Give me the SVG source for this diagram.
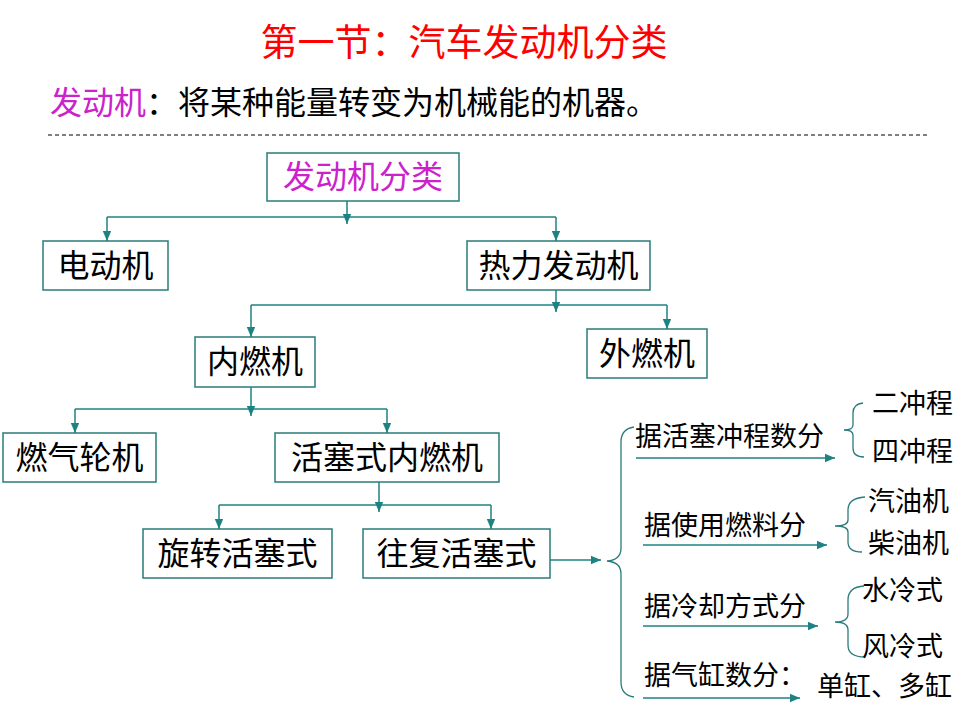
<svg xmlns="http://www.w3.org/2000/svg" width="960" height="720" viewBox="0 0 960 720">
<style>
text{font-family:"Noto Sans CJK SC","Liberation Sans",sans-serif;fill:#000}
.node rect{fill:#fff;stroke:#2A7C7C;stroke-width:1.5}
.node text{font-size:32px;text-anchor:middle}
.c{fill:none;stroke:#1E8282;stroke-width:1.5}
.b{fill:none;stroke:#2A7C7C;stroke-width:1.3}
.r{font-size:27px}
.mag{fill:#CC22CC}
</style>
<defs>
<marker id="ah" markerUnits="userSpaceOnUse" markerWidth="10" markerHeight="10" viewBox="0 0 10 10" refX="10" refY="5" orient="auto">
<path d="M0,0.8 L10,5 L0,9.2 Z" fill="#1E8282"/>
</marker>
</defs>
<text x="464" y="56" style="font-size:37px;fill:#FF0000;text-anchor:middle">第一节：汽车发动机分类</text>
<text x="50" y="114" style="font-size:32px"><tspan class="mag">发动机</tspan>：将某种能量转变为机械能的机器。</text>
<line x1="48" y1="135" x2="928" y2="135" stroke="#000" stroke-width="1" stroke-dasharray="4 3"/>
<g id="connectors">
<path class="c" d="M347,201 V224" marker-end="url(#ah)"/>
<path class="c" d="M107,217 H556"/>
<path class="c" d="M107,217 V241" marker-end="url(#ah)"/>
<path class="c" d="M556,217 V241" marker-end="url(#ah)"/>
<path class="c" d="M556,290 V312" marker-end="url(#ah)"/>
<path class="c" d="M251,305 H667"/>
<path class="c" d="M251,305 V337" marker-end="url(#ah)"/>
<path class="c" d="M667,305 V329" marker-end="url(#ah)"/>
<path class="c" d="M251,387 V416" marker-end="url(#ah)"/>
<path class="c" d="M75,409 H387"/>
<path class="c" d="M75,409 V433" marker-end="url(#ah)"/>
<path class="c" d="M387,409 V433" marker-end="url(#ah)"/>
<path class="c" d="M379,482 V512" marker-end="url(#ah)"/>
<path class="c" d="M219,505 H491"/>
<path class="c" d="M219,505 V529" marker-end="url(#ah)"/>
<path class="c" d="M491,505 V529" marker-end="url(#ah)"/>
<path class="c" d="M550,560 H601" marker-end="url(#ah)"/>
<path class="b" d="M634,427 Q621,429 621,442 V548 Q621,560 607,561 Q621,562 621,574 V682 Q621,695 634,697"/>
<path class="c" d="M636,458 H835" marker-end="url(#ah)"/>
<path class="c" d="M643,545 H827" marker-end="url(#ah)"/>
<path class="c" d="M643,626 H818" marker-end="url(#ah)"/>
<path class="c" d="M643,698 H800" marker-end="url(#ah)"/>
<path class="b" d="M863,403 Q853,404 853,413 V425 Q853,430 844,430 Q853,430 853,435 V448 Q853,457 864,457"/>
<path class="b" d="M865,497 Q848,498 848,510 V520 Q848,526 835,526 Q848,526 848,532 V542 Q848,552 862,552"/>
<path class="b" d="M864,586 Q848,587 848,600 V614 Q848,622 835,622 Q848,622 848,630 V645 Q848,657 865,657"/>
</g>
<g id="n_classify" class="node"><rect x="267" y="153" width="192" height="48"/><text x="363" y="188" class="mag">发动机分类</text></g>
<g id="n_electric" class="node"><rect x="43" y="241" width="125" height="49"/><text x="105.5" y="277">电动机</text></g>
<g id="n_heat" class="node"><rect x="467" y="241" width="183" height="49"/><text x="558.5" y="277">热力发动机</text></g>
<g id="n_internal" class="node"><rect x="195" y="337" width="120" height="50"/><text x="255" y="373">内燃机</text></g>
<g id="n_external" class="node"><rect x="587" y="329" width="120" height="49"/><text x="647" y="365">外燃机</text></g>
<g id="n_turbine" class="node"><rect x="3" y="433" width="153" height="49"/><text x="79.5" y="469">燃气轮机</text></g>
<g id="n_piston" class="node"><rect x="275" y="433" width="224" height="49"/><text x="387" y="469">活塞式内燃机</text></g>
<g id="n_rotary" class="node"><rect x="143" y="529" width="189" height="49"/><text x="237.5" y="565">旋转活塞式</text></g>
<g id="n_recip" class="node"><rect x="363" y="529" width="187" height="49"/><text x="456.5" y="565">往复活塞式</text></g>
<g id="labels">
<text class="r" x="635" y="446">据活塞冲程数分</text>
<text class="r" x="872" y="413">二冲程</text>
<text class="r" x="872" y="461">四冲程</text>
<text class="r" x="644" y="535">据使用燃料分</text>
<text class="r" x="868" y="511">汽油机</text>
<text class="r" x="868" y="553">柴油机</text>
<text class="r" x="644" y="616">据冷却方式分</text>
<text class="r" x="862" y="600">水冷式</text>
<text class="r" x="862" y="656">风冷式</text>
<text class="r" x="644" y="685">据气缸数分：</text>
<text class="r" x="817" y="696">单缸、多缸</text>
</g>
</svg>
